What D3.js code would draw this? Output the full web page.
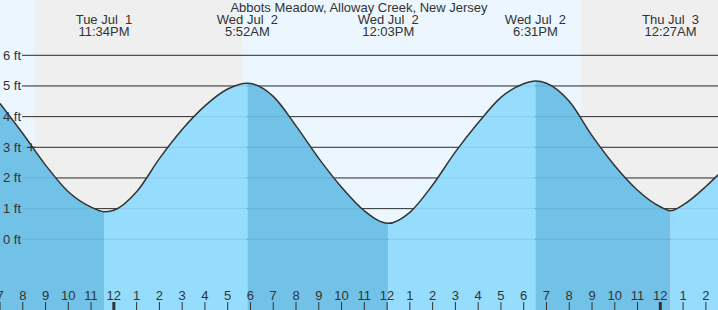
<!DOCTYPE html>
<html>
<head>
<meta charset="utf-8">
<script src="https://cdn.jsdelivr.net/npm/d3@7"></script>
<style>
  body { margin: 0; }
  svg { display: block; font-family: "Liberation Sans", Arial, sans-serif; }
</style>
</head>
<body>
<svg></svg>
<script>
// tide heights (feet), roughly hourly plus the highs/lows
var tideTimes = [
  "2025-07-01 19:00", "2025-07-01 20:00", "2025-07-01 21:00", "2025-07-01 22:00", "2025-07-01 23:00", "2025-07-01 23:34",
  "2025-07-02 00:00", "2025-07-02 01:00", "2025-07-02 02:00", "2025-07-02 03:00", "2025-07-02 04:00", "2025-07-02 05:00",
  "2025-07-02 05:52", "2025-07-02 06:00", "2025-07-02 07:00", "2025-07-02 08:00", "2025-07-02 09:00", "2025-07-02 10:00",
  "2025-07-02 11:00", "2025-07-02 12:03", "2025-07-02 13:00", "2025-07-02 14:00", "2025-07-02 15:00", "2025-07-02 16:00",
  "2025-07-02 17:00", "2025-07-02 18:00", "2025-07-02 18:31", "2025-07-02 19:00", "2025-07-02 20:00", "2025-07-02 21:00",
  "2025-07-02 22:00", "2025-07-02 23:00", "2025-07-03 00:00", "2025-07-03 00:27", "2025-07-03 01:00", "2025-07-03 02:00",
  "2025-07-03 02:32"
];
var tideFeet = [
  4.43, 3.45, 2.42, 1.55, 1.05, 0.9,
  0.95, 1.55, 2.63, 3.58, 4.35, 4.9,
  5.09, 5.08, 4.66, 3.7, 2.64, 1.7,
  0.93, 0.52, 0.88, 1.77, 2.85, 3.8,
  4.63, 5.07, 5.16, 5.09, 4.5, 3.38,
  2.4, 1.6, 1.06, 0.93, 1.12, 1.72,
  2.1
];

// high / low events shown at the top
var eventTimes = ["2025-07-01 23:34", "2025-07-02 05:52", "2025-07-02 12:03", "2025-07-02 18:31", "2025-07-03 00:27"];
var eventDays = ["Tue Jul  1", "Wed Jul  2", "Wed Jul  2", "Wed Jul  2", "Thu Jul  3"];
var eventLabels = ["11:34PM", "5:52AM", "12:03PM", "6:31PM", "12:27AM"];

// sunset, sunrise, sunset
var sunTimes = ["2025-07-01 20:30", "2025-07-02 05:38", "2025-07-02 20:30"];

var feetTicks = [0, 1, 2, 3, 4, 5, 6];
var nowTime = "2025-07-01 20:22", nowFeet = 3.0;
var chartTitle = "Abbots Meadow, Alloway Creek, New Jersey";

var width = 718, height = 310;
var parse = d3.utcParse("%Y-%m-%d %H:%M");
var start = parse("2025-07-01 19:00"), end = parse("2025-07-03 02:32");

var data = tideTimes.map(function(t, i) { return { date: parse(t), value: tideFeet[i] }; });

var x = d3.scaleUtc().domain([start, end]).range([0, width]);
var y = d3.scaleLinear().domain([0, 6]).range([239.3, 55.3]);

var svg = d3.select("svg").attr("width", width).attr("height", height);

// day / night background
svg.append("rect").attr("width", width).attr("height", height).attr("fill", "#ebf6ff");
var nights = [[parse(sunTimes[0]), parse(sunTimes[1])], [parse(sunTimes[2]), end]];
svg.selectAll(".night").data(nights).enter().append("rect")
    .attr("x", function(d) { return x(d[0]); })
    .attr("width", function(d) { return x(d[1]) - x(d[0]); })
    .attr("y", 0).attr("height", height)
    .attr("fill", "#efefef");

// grid lines
svg.selectAll(".grid").data(feetTicks).enter().append("line")
    .attr("x1", 22).attr("x2", width)
    .attr("y1", function(d) { return y(d); }).attr("y2", function(d) { return y(d); })
    .attr("stroke", "#333").attr("stroke-width", 1);

// water, dark while falling and light while rising
var bounds = [start].concat(eventTimes.map(parse)).concat([end]);
var area = d3.area()
    .x(function(d) { return x(d.date); })
    .y0(height)
    .y1(function(d) { return y(d.value); })
    .curve(d3.curveMonotoneX);

var defs = svg.append("defs");
for (var i = 0; i < bounds.length - 1; i++) {
  defs.append("clipPath").attr("id", "seg" + i)
    .append("rect")
    .attr("x", x(bounds[i])).attr("width", x(bounds[i + 1]) - x(bounds[i]))
    .attr("y", 0).attr("height", height);
  svg.append("path")
      .datum(data)
      .attr("clip-path", "url(#seg" + i + ")")
      .attr("fill", i % 2 == 0 ? "#72c1e6" : "#96dcfd")
      .attr("d", area);
}

// faint grid over the water
svg.selectAll(".gridw").data(feetTicks).enter().append("line")
    .attr("x1", 22).attr("x2", width)
    .attr("y1", function(d) { return y(d); }).attr("y2", function(d) { return y(d); })
    .attr("stroke", "#000").attr("stroke-opacity", 0.08);

var line = d3.line()
    .x(function(d) { return x(d.date); })
    .y(function(d) { return y(d.value); })
    .curve(d3.curveMonotoneX);

svg.append("path")
    .datum(data)
    .attr("fill", "none")
    .attr("stroke", "#333")
    .attr("stroke-width", 1.5)
    .attr("d", line);

// current time marker
var nx = x(parse(nowTime)), ny = y(nowFeet);
svg.append("path")
    .attr("d", "M" + (nx - 4) + "," + ny + "H" + (nx + 4) + "M" + nx + "," + (ny - 4) + "V" + (ny + 4))
    .attr("stroke", "#333").attr("stroke-width", 1.2);

// feet labels
svg.selectAll(".ylab").data(feetTicks).enter().append("text")
    .attr("x", 3).attr("y", function(d) { return y(d) + 4.5; })
    .attr("font-size", 13).attr("fill", "#333")
    .text(function(d) { return d + " ft"; });

// hour axis
var hours = d3.utcHour.range(start, end);
svg.selectAll(".tick").data(hours).enter().append("rect")
    .attr("x", function(d) { return d.getUTCHours() == 0 ? x(d) - 1.5 : x(d) - 0.5; })
    .attr("width", function(d) { return d.getUTCHours() == 0 ? 3 : 1; })
    .attr("y", 302).attr("height", 8)
    .attr("fill", "#333");

svg.selectAll(".hlab").data(hours).enter().append("text")
    .attr("x", function(d) { return x(d); }).attr("y", 300)
    .attr("text-anchor", "middle")
    .attr("font-size", 13).attr("fill", "#333")
    .text(d3.utcFormat("%-I"));

// event labels
svg.selectAll(".eday").data(eventTimes).enter().append("text")
    .attr("x", function(d) { return x(parse(d)); }).attr("y", 24)
    .attr("text-anchor", "middle").attr("font-size", 13).attr("fill", "#333")
    .style("white-space", "pre")
    .text(function(d, i) { return eventDays[i]; });

svg.selectAll(".etime").data(eventTimes).enter().append("text")
    .attr("x", function(d) { return x(parse(d)); }).attr("y", 36)
    .attr("text-anchor", "middle").attr("font-size", 13).attr("fill", "#333")
    .text(function(d, i) { return eventLabels[i]; });

svg.append("text")
    .attr("x", width / 2).attr("y", 12)
    .attr("text-anchor", "middle").attr("font-size", 13).attr("fill", "#333")
    .text(chartTitle);
</script>
</body>
</html>
